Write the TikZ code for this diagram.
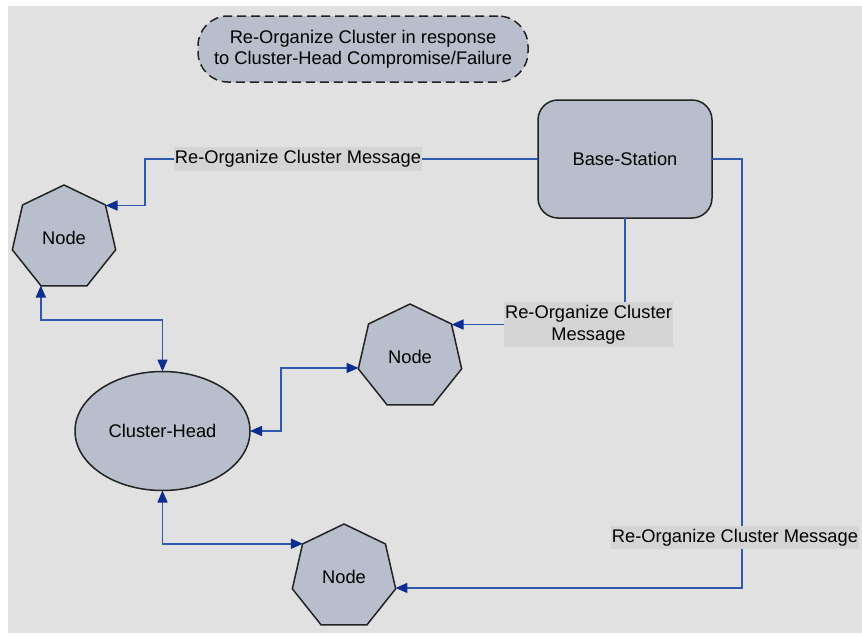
\documentclass[tikz,border=0pt]{standalone}
\usepackage{fontspec}
\setmainfont{Liberation Sans}
\usetikzlibrary{shapes.geometric,arrows.meta}
\definecolor{bgc}{RGB}{225,225,225}
\definecolor{shapefill}{RGB}{184,190,203}
\definecolor{labfill}{RGB}{212,212,212}
\definecolor{linec}{RGB}{45,90,175}
\definecolor{tipc}{RGB}{12,45,145}
\definecolor{borderc}{RGB}{35,35,35}
\tikzset{
  shp/.style={draw=borderc, line width=1.5pt, fill=shapefill, outer sep=0pt, inner sep=0pt,
    font=\fontsize{18.3}{21}\selectfont},
  hept/.style={shp, regular polygon, regular polygon sides=7, minimum size=106pt},
  conn/.style={draw=linec, line width=1.5pt},
  tip/.style={-{Triangle[length=12pt,width=10pt,color=tipc]}},
  dtip/.style={{Triangle[length=12pt,width=10pt,color=tipc]}-{Triangle[length=12pt,width=10pt,color=tipc]}},
  lab/.style={fill=labfill, inner xsep=1pt, inner ysep=3pt, align=center,
    font=\fontsize{18.3}{22}\selectfont}
}
\begin{document}
\begin{tikzpicture}[x=1pt,y=-1pt]
\useasboundingbox (0,0) rectangle (862,637);
\fill[white] (0,0) rectangle (862,637);
\fill[bgc] (8,6) rectangle (862,633);

\node[shp, dashed, dash pattern=on 9pt off 5pt, rounded corners=30pt, minimum width=330pt, minimum height=66pt, align=center, font=\fontsize{18.3}{21}\selectfont] (title) at (363,49) {Re-Organize Cluster in response\\to Cluster-Head Compromise/Failure};
\node[shp, rounded corners=20pt, minimum width=174pt, minimum height=118pt] (bs) at (625,159) {Base-Station};
\node[hept] (n1) at (64,238) {Node};
\node[hept] (n2) at (410,357) {Node};
\node[hept] (n3) at (344,577) {Node};
\node[shp, ellipse, minimum width=175pt, minimum height=119pt] (ch) at (162.5,431) {Cluster-Head};

\coordinate (c1) at (145,159);
\coordinate (c3) at (742,159);
\coordinate (c4) at (162.5,320);
\coordinate (c5) at (281,431);

\draw[conn,tip] (bs.west) -- (c1) |- (n1.38.57);
\draw[conn,tip] (bs.south) |- (n2.38.57);
\draw[conn,tip] (bs.east) -- (c3) |- (n3.-12.86);
\draw[conn,dtip] (n1.244.29) |- (c4) -- (ch.north);
\draw[conn,dtip] (ch.east) -- (c5) |- (n2.192.86);
\draw[conn,dtip] (ch.south) |- (n3.141.43);

\node[lab] (l1) at (298,159) {Re-Organize Cluster Message};
\node[lab] (l2) at (588.5,324.5) {Re-Organize Cluster\\Message};
\node[lab] (l3) at (735,537.5) {Re-Organize Cluster Message};
\end{tikzpicture}
\end{document}
